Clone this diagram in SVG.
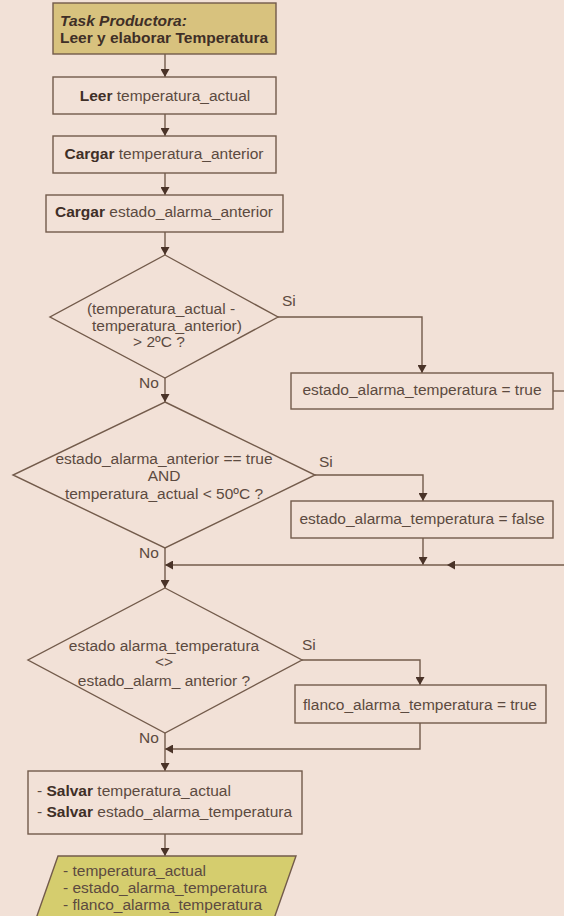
<svg xmlns="http://www.w3.org/2000/svg" width="564" height="916" viewBox="0 0 564 916">
<defs>
<marker id="ah" markerUnits="userSpaceOnUse" markerWidth="9" markerHeight="9" refX="8" refY="4.5" orient="auto">
<path d="M0,0 L8,4.5 L0,9 z" fill="#4a3328"/>
</marker>
<style>
.bg{fill:#f2e1d7}
.box{fill:none;stroke:#735b4b;stroke-width:1.4}
.t{font-family:"Liberation Sans",Arial,sans-serif;font-size:15.5px;fill:#5c4a40}
.b{font-weight:bold;fill:#3f2f27}
.c{text-anchor:middle}
.ln{fill:none;stroke:#735b4b;stroke-width:1.4}
.arr{marker-end:url(#ah)}
</style>
</defs>
<rect class="bg" x="0" y="0" width="564" height="916"/>

<g id="connectors">
<path class="ln arr" d="M165,54 V77"/>
<path class="ln arr" d="M165,114 V136"/>
<path class="ln arr" d="M165,173 V195"/>
<path class="ln arr" d="M165,232 V255"/>
<path class="ln arr" d="M165,378 V402"/>
<path class="ln arr" d="M278,317 H422 V373"/>
<path class="ln" d="M553,391 H564"/>
<path class="ln arr" d="M315,475 H423 V501"/>
<path class="ln arr" d="M423,538 V565"/>
<path class="ln arr" d="M564,565 H447"/>
<path class="ln arr" d="M447,565 H165"/>
<path class="ln arr" d="M165,548 V588"/>
<path class="ln arr" d="M302,660 H420 V685"/>
<path class="ln arr" d="M420,723 V749 H165"/>
<path class="ln arr" d="M165,733 V771"/>
<path class="ln arr" d="M165,834 V856"/>
</g>

<g id="start">
<rect x="53" y="3" width="223" height="51" fill="#d8c27e" stroke="#735b4b" stroke-width="1.4"/>
<text class="t b" x="60" y="26" font-style="italic">Task Productora:</text>
<text class="t b" x="60" y="43">Leer y elaborar Temperatura</text>
</g>

<g id="leer">
<rect class="box" x="53" y="77" width="223" height="37"/>
<text class="t c" x="165" y="101"><tspan class="b">Leer</tspan> temperatura_actual</text>
</g>

<g id="cargar1">
<rect class="box" x="53" y="136" width="223" height="37"/>
<text class="t c" x="164" y="159"><tspan class="b">Cargar</tspan> temperatura_anterior</text>
</g>

<g id="cargar2">
<rect class="box" x="46" y="195" width="237" height="37"/>
<text class="t c" x="164" y="217"><tspan class="b">Cargar</tspan> estado_alarma_anterior</text>
</g>

<g id="dec1">
<polygon class="box" points="165,255 278,317 165,378 50,317"/>
<text class="t c" x="161" y="314">(temperatura_actual -</text>
<text class="t c" x="167" y="331">temperatura_anterior)</text>
<text class="t c" x="159" y="347">&gt; 2ºC ?</text>
<text class="t" x="282" y="306">Si</text>
<text class="t" x="139" y="388">No</text>
</g>

<g id="set-true">
<rect class="box" x="291" y="373" width="262" height="36"/>
<text class="t c" x="422" y="395">estado_alarma_temperatura = true</text>
</g>

<g id="dec2">
<polygon class="box" points="165,402 315,475 165,548 13,475"/>
<text class="t c" x="164" y="464">estado_alarma_anterior == true</text>
<text class="t c" x="164" y="481">AND</text>
<text class="t c" x="164" y="499">temperatura_actual &lt; 50ºC ?</text>
<text class="t" x="319" y="467">Si</text>
<text class="t" x="139" y="558">No</text>
</g>

<g id="set-false">
<rect class="box" x="291" y="501" width="262" height="37"/>
<text class="t c" x="422" y="524">estado_alarma_temperatura = false</text>
</g>

<g id="dec3">
<polygon class="box" points="165,588 302,660 165,733 28,660"/>
<text class="t c" x="164" y="651">estado alarma_temperatura</text>
<text class="t c" x="164" y="667">&lt;&gt;</text>
<text class="t c" x="164" y="686">estado_alarm_ anterior ?</text>
<text class="t" x="302" y="650">Si</text>
<text class="t" x="139" y="743">No</text>
</g>

<g id="flanco">
<rect class="box" x="295" y="685" width="251" height="38"/>
<text class="t c" x="420" y="710">flanco_alarma_temperatura = true</text>
</g>

<g id="salvar">
<rect class="box" x="28" y="771" width="274" height="63"/>
<text class="t" x="37" y="796">- <tspan class="b">Salvar</tspan> temperatura_actual</text>
<text class="t" x="37" y="817">- <tspan class="b">Salvar</tspan> estado_alarma_temperatura</text>
</g>

<g id="output">
<polygon points="58,856 296,856 270,930 32,930" fill="#d5cd6e" stroke="#735b4b" stroke-width="1.4"/>
<text class="t" x="63" y="876" fill="#4f4632">- temperatura_actual</text>
<text class="t" x="63" y="893" fill="#4f4632">- estado_alarma_temperatura</text>
<text class="t" x="63" y="910" fill="#4f4632">- flanco_alarma_temperatura</text>
</g>
</svg>
